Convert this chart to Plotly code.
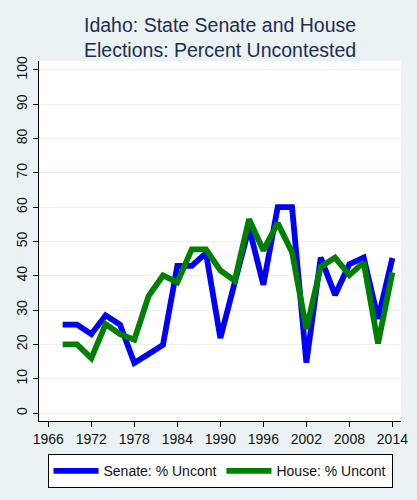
import plotly.graph_objects as go

years = [1968, 1970, 1972, 1974, 1976, 1978, 1980, 1982, 1984, 1986, 1988, 1990,
         1992, 1994, 1996, 1998, 2000, 2002, 2004, 2006, 2008, 2010, 2012, 2014]
senate = [25.8, 25.8, 23.0, 28.5, 25.8, 14.6, 17.2, 19.9, 42.9, 42.9, 46.6, 21.9,
          38.0, 54.0, 37.4, 60.0, 60.0, 14.7, 45.3, 34.4, 43.4, 45.3, 27.5, 45.2]
house = [20.0, 20.0, 16.0, 25.9, 23.0, 21.4, 34.2, 40.1, 38.1, 47.7, 47.7, 41.6,
         38.6, 56.5, 47.4, 55.4, 46.9, 24.5, 42.6, 45.3, 40.2, 43.9, 20.3, 41.0]
x_ticks = [1966, 1972, 1978, 1984, 1990, 1996, 2002, 2008, 2014]
y_ticks = list(range(0, 101, 10))

FONT = "Arial, Liberation Sans, sans-serif"
BG = "#EAF2F3"

fig = go.Figure()
fig.add_trace(go.Scatter(x=years, y=senate, mode="lines", name="Senate: % Uncont",
                         line=dict(color="#0000FF", width=5.8)))
fig.add_trace(go.Scatter(x=years, y=house, mode="lines", name="House: % Uncont",
                         line=dict(color="#008000", width=5.8)))

fig.add_annotation(text="Idaho: State Senate and House<br>Elections: Percent Uncontested",
                   xref="paper", yref="paper", x=0.5, y=1.066, yanchor="middle",
                   showarrow=False,
                   font=dict(family=FONT, size=19.5, color="#1E2D53"))

fig.update_layout(
    width=417, height=500,
    margin=dict(l=39, r=16, t=61, b=79, autoexpand=False),
    paper_bgcolor=BG,
    plot_bgcolor="white",
    font=dict(family=FONT, size=14, color="#111111"),
    xaxis=dict(range=[1964.7, 2015.2], tickvals=x_ticks, showgrid=False,
               showline=True, linecolor="black", linewidth=1,
               ticks="outside", ticklen=5, tickcolor="black", zeroline=False),
    yaxis=dict(range=[-2.3, 102.6], tickvals=y_ticks, tickangle=-90,
               showgrid=True, gridcolor=BG, gridwidth=1,
               showline=True, linecolor="black", linewidth=1,
               ticks="outside", ticklen=5, tickcolor="black", zeroline=False),
    legend=dict(orientation="h", x=0.5, xanchor="center", y=-0.0926, yanchor="top",
                bgcolor="white", bordercolor="black", borderwidth=1,
                font=dict(size=14), itemwidth=45),
    showlegend=True,
)

# drop the page's default body margin so the figure sits at the window corner
fig.write_html("out.html", config={"displayModeBar": False},
               post_script="document.body.style.margin='0';")
